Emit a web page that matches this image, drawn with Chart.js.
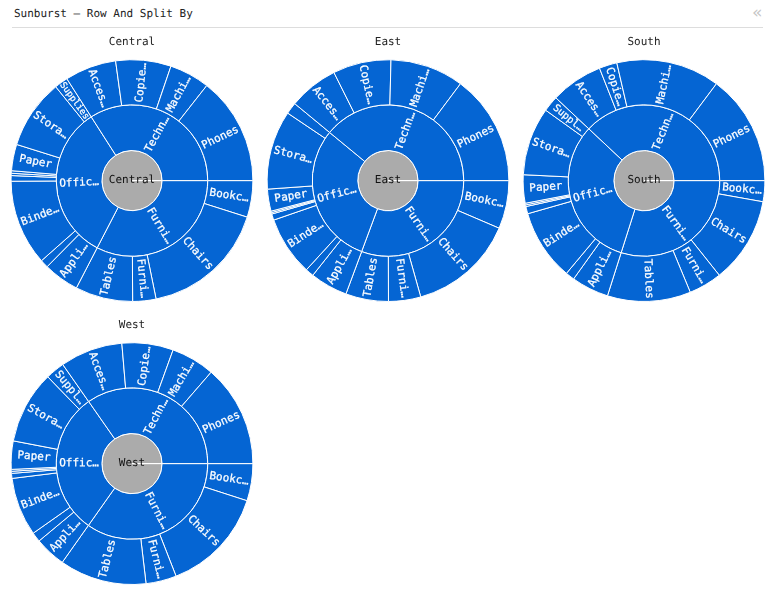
<!DOCTYPE html>
<html>
<head>
<meta charset="utf-8">
<style>
  html, body { margin: 0; padding: 0; background: #fff; width: 776px; height: 600px; overflow: hidden; }
  body { position: relative; font-family: "DejaVu Sans Mono", monospace; text-rendering: geometricPrecision; }
  #head { position: absolute; left: 14px; top: 7px; font-size: 11px; line-height: 14px; color: #222; }
  #rule { position: absolute; left: 12px; top: 27px; width: 751px; height: 1px; background: #ddd; }
  #fold { position: absolute; left: 752px; top: 3px; font: 17px/20px "DejaVu Sans", sans-serif; color: #c4c4c4; }
  canvas { position: absolute; }
</style>
<script src="https://cdn.jsdelivr.net/npm/chart.js@4/dist/chart.umd.min.js"></script>
</head>
<body>
<div id="head">Sunburst — Row And Split By</div>
<div id="rule"></div>
<div id="fold">«</div>
<canvas id="c0" width="256" height="268" style="left:4px;top:34px"></canvas>
<canvas id="c1" width="256" height="268" style="left:260px;top:34px"></canvas>
<canvas id="c2" width="256" height="268" style="left:516px;top:34px"></canvas>
<canvas id="c3" width="256" height="268" style="left:4px;top:317px"></canvas>
<script>
const regions = ["Central", "East", "South", "West"];
const categories = ["Furniture", "Office Supplies", "Technology"];
const subCategories = ["Bookcases", "Chairs", "Furnishings", "Tables",
  "Appliances", "Art", "Binders", "Envelopes", "Fasteners", "Labels", "Paper", "Storage", "Supplies",
  "Accessories", "Copiers", "Machines", "Phones"];

// slice sizes, ordered clockwise from 3 o'clock
const centralCategories = [117.4, 120.0, 122.6];
const eastCategories = [110.4, 109.1, 140.5];
const southCategories = [107.6, 115.6, 136.8];
const westCategories = [125.2, 109.9, 124.9];

const centralSub = [17.6, 60.9, 11.2, 27.7, 17.2, 3.9, 41.2, 2.7, 1.1, 1.2, 12.7, 33.5, 6.5, 24.8, 26.6, 19.4, 51.8];
const eastSub = [23.2, 51.1, 15.5, 20.6, 18.1, 4.0, 28.5, 3.0, 0.7, 0.7, 10.6, 38.0, 5.6, 23.9, 28.0, 35.4, 53.2];
const southSub = [10.1, 41.4, 16.0, 40.1, 18.0, 4.3, 34.2, 3.5, 0.8, 0.8, 13.6, 32.8, 7.6, 25.2, 8.6, 49.8, 53.2];
const westSub = [17.9, 50.7, 14.7, 41.9, 15.0, 4.6, 28.1, 2.4, 1.0, 0.9, 13.6, 35.0, 9.2, 30.1, 24.7, 21.0, 49.1];

const categorySeries = [centralCategories, eastCategories, southCategories, westCategories];
const subSeries = [centralSub, eastSub, southSub, westSub];

const BLUE = "#0565d3";
const GREY = "#ababab";

function fit(ctx, text, size, room) {
  ctx.font = size + 'px "DejaVu Sans Mono", monospace';
  return ctx.measureText(text).width > room ? text.slice(0, 5) + "…" : text;
}

const sliceLabels = {
  id: "sliceLabels",
  beforeDraw(chart) {
    chart.ctx.textRendering = "geometricPrecision";
  },
  afterDatasetsDraw(chart) {
    const ctx = chart.ctx;
    ctx.save();
    ctx.textAlign = "center";
    ctx.textBaseline = "middle";
    chart.data.datasets.forEach((ds, d) => {
      chart.getDatasetMeta(d).data.forEach((arc, i) => {
        const p = arc.getProps(["x", "y", "startAngle", "endAngle", "innerRadius", "outerRadius"]);
        const mid = (p.startAngle + p.endAngle) / 2;
        const r = (p.innerRadius + p.outerRadius) / 2;
        if (ds.nameList.length === 1) {
          ctx.font = '11px "DejaVu Sans Mono", monospace';
          ctx.fillStyle = "#111";
          ctx.fillText(ds.nameList[0], p.x, p.y);
          return;
        }
        const across = (p.endAngle - p.startAngle) * r;
        if (across < 10.5) return;
        const size = across < 12 ? 9 : across < 14.5 ? 10 : 11;
        const label = fit(ctx, ds.nameList[i], size, p.outerRadius - p.innerRadius - 1);
        const a = ((mid % (2 * Math.PI)) + 2 * Math.PI) % (2 * Math.PI);
        const flip = a > Math.PI / 2 && a < 3 * Math.PI / 2;
        ctx.save();
        ctx.translate(p.x + Math.cos(mid) * r, p.y + Math.sin(mid) * r);
        ctx.rotate(flip ? mid - Math.PI : mid);
        ctx.fillStyle = "#fff";
        ctx.strokeStyle = "#fff";
        ctx.lineWidth = 0.25;
        ctx.fillText(label, 0, 0);
        ctx.strokeText(label, 0, 0);
        ctx.restore();
      });
    });
    ctx.restore();
  }
};

regions.forEach((region, k) => {
  new Chart(document.getElementById("c" + k), {
    type: "doughnut",
    data: {
      labels: subCategories,
      datasets: [
        { data: subSeries[k], nameList: subCategories, weight: 45, backgroundColor: BLUE, borderColor: "#fff", borderWidth: 1 },
        { data: categorySeries[k], nameList: categories, weight: 45.5, backgroundColor: BLUE, borderColor: "#fff", borderWidth: 1 },
        { data: [1], nameList: [region], weight: 30, backgroundColor: GREY, borderColor: "#fff", borderWidth: 1 }
      ]
    },
    options: {
      responsive: false,
      animation: false,
      cutout: 0,
      rotation: 90,
      layout: { padding: { left: 6.5, right: 6.5, top: 0, bottom: 0 } },
      plugins: {
        legend: { display: false },
        tooltip: { enabled: false },
        title: {
          display: true,
          text: region,
          color: "#222",
          font: { family: '"DejaVu Sans Mono", monospace', size: 11, weight: "normal" },
          padding: { top: 2, bottom: 10 }
        }
      }
    },
    plugins: [sliceLabels]
  });
});
</script>
</body>
</html>
